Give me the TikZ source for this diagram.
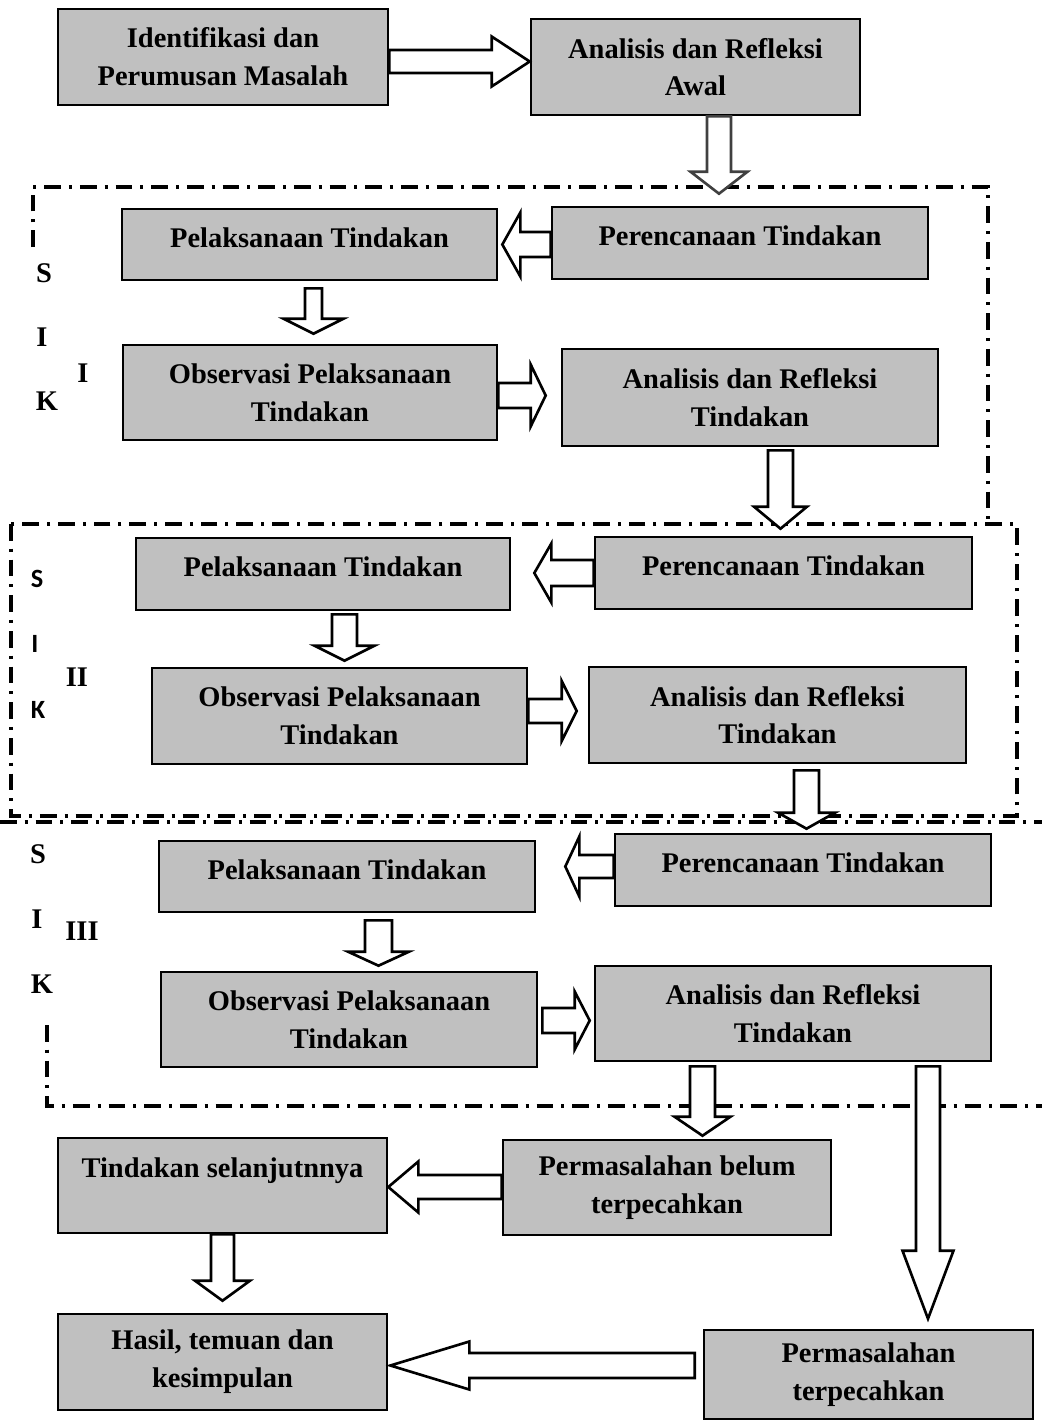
\documentclass[tikz,border=0pt]{standalone}
\usepackage{fontspec}
\setmainfont{Liberation Serif}
\newfontfamily\hurufcalibri{Carlito}
\usetikzlibrary{calc,positioning}
\definecolor{abu}{RGB}{192,192,192}
\definecolor{abutua}{RGB}{64,64,64}
\newcommand{\teksbox}{\bfseries\fontsize{16.2}{21.5}\selectfont}

\tikzset{
  kotak/.style 2 args={draw, fill=abu, line width=1.5pt, minimum width=#1*0.02cm, minimum height=#2*0.02cm, align=center, inner sep=1pt, font=\teksbox},
  naik/.style={text depth=8pt},
  siklus/.style={draw, line width=1.8pt, dash pattern=on 9.5pt off 4.5pt on 1.8pt off 4.5pt},
  huruf/.style={inner sep=0pt, font=\teksbox},
  hurufsans/.style={inner sep=0pt, font=\hurufcalibri\bfseries\fontsize{15}{18}\selectfont},
  blok/.style={draw, fill=white, line width=1.5pt, line join=miter},
  panahbawah/.style n args={3}{to path={let \p1=(\tikztostart), \p2=(\tikztotarget) in
    (\x1-#1*0.02cm,\y1) -- (\x1-#1*0.02cm,\y2+#3*0.02cm) -- (\x1-#2*0.02cm,\y2+#3*0.02cm) -- (\x1,\y2)
    -- (\x1+#2*0.02cm,\y2+#3*0.02cm) -- (\x1+#1*0.02cm,\y2+#3*0.02cm) -- (\x1+#1*0.02cm,\y1) -- cycle}},
  panahkiri/.style n args={3}{to path={let \p1=(\tikztostart), \p2=(\tikztotarget) in
    (\x1,\y1+#1*0.02cm) -- (\x2+#3*0.02cm,\y1+#1*0.02cm) -- (\x2+#3*0.02cm,\y1+#2*0.02cm) -- (\x2,\y1)
    -- (\x2+#3*0.02cm,\y1-#2*0.02cm) -- (\x2+#3*0.02cm,\y1-#1*0.02cm) -- (\x1,\y1-#1*0.02cm) -- cycle}},
  panahkanan/.style n args={3}{to path={let \p1=(\tikztostart), \p2=(\tikztotarget) in
    (\x1,\y1+#1*0.02cm) -- (\x2-#3*0.02cm,\y1+#1*0.02cm) -- (\x2-#3*0.02cm,\y1+#2*0.02cm) -- (\x2,\y1)
    -- (\x2-#3*0.02cm,\y1-#2*0.02cm) -- (\x2-#3*0.02cm,\y1-#1*0.02cm) -- (\x1,\y1-#1*0.02cm) -- cycle}}
}

\begin{document}
\begin{tikzpicture}[x=0.02cm,y=-0.02cm]
\useasboundingbox (0,0) rectangle (1042,1421);
% garis siklus
\draw[siklus] (33,247) -- (33,187) -- (988,187) -- (988,524);
\draw[siklus] (11,524) rectangle (1017,816);
\draw[siklus] (0,822) -- (1042,822);
\draw[siklus] (47,1025) -- (47,1106) -- (1042,1106);

% kotak
\node[kotak={330}{96}] (ident) at (223,57) {Identifikasi dan\\Perumusan Masalah};
\node[kotak={329}{96}] (awal) at (695.5,67) {Analisis dan Refleksi\\Awal};

\node[kotak={375}{71},naik] (pel1) at (309.5,244.5) {Pelaksanaan Tindakan};
\node[kotak={376}{72},naik] (ren1) at (740,243) {Perencanaan Tindakan};
\node[kotak={374}{95}] (obs1) at (310,392.5) {Observasi Pelaksanaan\\Tindakan};
\node[kotak={376}{97}] (ana1) at (750,397.5) {Analisis dan Refleksi\\Tindakan};

\node[kotak={374}{72},naik] (pel2) at (323,574) {Pelaksanaan Tindakan};
\node[kotak={377}{72},naik] (ren2) at (783.5,573) {Perencanaan Tindakan};
\node[kotak={375}{96}] (obs2) at (339.5,716) {Observasi Pelaksanaan\\Tindakan};
\node[kotak={377}{96}] (ana2) at (777.5,715) {Analisis dan Refleksi\\Tindakan};

\node[kotak={376}{71},naik] (pel3) at (347,876.5) {Pelaksanaan Tindakan};
\node[kotak={376}{72},naik] (ren3) at (803,870) {Perencanaan Tindakan};
\node[kotak={376}{95}] (obs3) at (349,1019.5) {Observasi Pelaksanaan\\Tindakan};
\node[kotak={396}{95}] (ana3) at (793,1013.5) {Analisis dan Refleksi\\Tindakan};

\node[kotak={329}{95},text depth=20pt] (lanjut) at (222.5,1185.5) {Tindakan selanjutnnya};
\node[kotak={328}{95}] (belum) at (667,1187.5) {Permasalahan belum\\terpecahkan};
\node[kotak={329}{96}] (hasil) at (222.5,1362) {Hasil, temuan dan\\kesimpulan};
\node[kotak={329}{89}] (pecah) at (868.5,1374.5) {Permasalahan\\terpecahkan};

% panah
\draw[blok, panahkanan={11.5}{25}{38}] ($(ident.east)+(0,4.5)$) to (awal.west);
\draw[blok, draw=abutua, panahbawah={12}{28.5}{22}] ($(awal.south)+(23.5,0)$) to ($(ren1.north)+(0,-12)$);

\draw[blok, panahkiri={12.5}{32}{18}] ($(ren1.west)+(0,1.5)$) to ($(pel1.east)+(4,0)$);
\draw[blok, panahbawah={8.5}{30}{15}] ($(pel1.south)+(4,7)$) to ($(obs1.north)+(0,-10)$);
\draw[blok, panahkanan={12.5}{31}{15}] ($(obs1.east)+(0,3)$) to ($(ana1.west)+(-15,0)$);
\draw[blok, panahbawah={12.5}{26.5}{22}] ($(ana1.south)+(30.5,3)$) to ($(ren2.north)+(0,-7)$);

\draw[blok, panahkiri={13}{29.5}{17}] (ren2.west) to ($(pel2.east)+(23,0)$);
\draw[blok, panahbawah={12.5}{30}{15}] ($(pel2.south)+(21.5,3)$) to ($(obs2.north)+(0,-6)$);
\draw[blok, panahkanan={12}{30}{15}] ($(obs2.east)+(0,-5)$) to ($(ana2.west)+(-11,0)$);
\draw[blok, panahbawah={12.5}{28.5}{16}] ($(ana2.south)+(29,6)$) to ($(ren3.north)+(0,-4)$);

\draw[blok, panahkiri={11.5}{30}{14}] ($(ren3.west)+(0,-3.5)$) to ($(pel3.east)+(29,0)$);
\draw[blok, panahbawah={13.5}{30.5}{14}] ($(pel3.south)+(31.5,7)$) to ($(obs3.north)+(0,-5)$);
\draw[blok, panahkanan={12.5}{29}{15}] ($(obs3.east)+(4,1)$) to ($(ana3.west)+(-4,0)$);

\draw[blok, panahbawah={12.5}{28}{19}] ($(ana3.south)+(-90.5,4)$) to ($(belum.north)+(0,-3)$);
\draw[blok, panahbawah={12}{25.5}{68}] ($(ana3.south)+(135,4)$) to ($(pecah.north)+(0,-10)$);
\draw[blok, panahkiri={12}{25.5}{30}] ($(belum.west)+(0,-0.5)$) to (lanjut.east);
\draw[blok, panahbawah={11.5}{27.5}{20}] (lanjut.south) to ($(hasil.north)+(0,-12)$);
\draw[blok, panahkiri={12.5}{24}{79}] ($(pecah.west)+(-8,-9)$) to ($(hasil.east)+(2,0)$);

% label siklus
\node[huruf] (s1) at (44,273) {S};
\node[huruf] (i1) at (42,337) {I};
\node[huruf] (k1) at (47,401) {K};
\node[huruf] (n1) at (83,373) {I};

\node[hurufsans] (s2) at (37,579) {S};
\node[hurufsans] (i2) at (35,644) {I};
\node[hurufsans] (k2) at (38,710) {K};
\node[huruf] (n2) at (77,677) {II};

\node[huruf] (s3) at (38,854) {S};
\node[huruf] (i3) at (37,919) {I};
\node[huruf] (k3) at (42,984) {K};
\node[huruf] (n3) at (82,931) {III};
\end{tikzpicture}
\end{document}
